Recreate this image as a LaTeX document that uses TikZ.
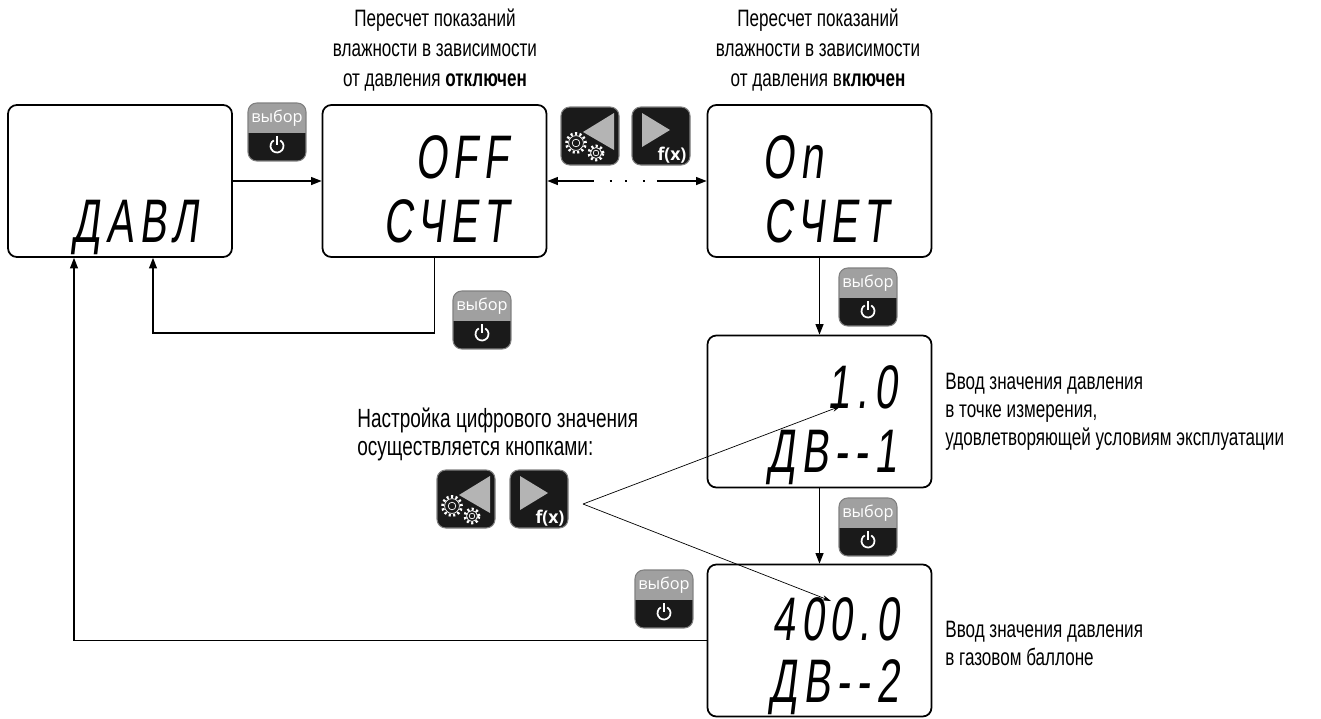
\documentclass[tikz,border=0pt]{standalone}
\usepackage{fontspec}
\setmainfont{Liberation Sans}[FakeStretch=0.72]
\newfontfamily\lcdfont{Liberation Sans}[FakeStretch=0.66,FakeSlant=0.12,LetterSpace=10,Ligatures=TeXOff]
\newfontfamily\btnfont{Open Sans}
\usetikzlibrary{arrows.meta}

\definecolor{btngray}{HTML}{A0A0A0}
\definecolor{trigray}{HTML}{B4B4B4}
\definecolor{btnblack}{HTML}{1A1A1A}

\tikzset{
	disp/.style={draw, line width=1pt, rounded corners=5pt, minimum width=4.48cm, minimum height=3.04cm, inner sep=0pt},
	seg/.style={font=\lcdfont\fontsize{35}{35}\selectfont, inner sep=0pt},
	lbl/.style={font=\fontsize{13.5}{17}\selectfont, align=center},
	note/.style={font=\fontsize{13.5}{15.9}\selectfont, align=left, inner sep=0pt},
	wire/.style={line width=0.8pt},
	pointer/.style={line width=0.4pt, -{Stealth[length=5pt,width=3pt]}},
	keyrim/.style={draw=gray, line width=0.6pt, rounded corners=5pt},
	cog/.pic={
		\draw[white, line width=1.6pt, dash pattern=on 1.2pt off 1.4pt] (0,0) circle[radius=#1];
		\filldraw[fill=btnblack, draw=white, line width=0.4pt] (0,0) circle[radius=0.78*#1];
		\draw[white, line width=0.4pt] (0,0) circle[radius=0.4*#1];
	},
	selkey/.pic={
		\begin{scope}
			\clip[rounded corners=5pt] (-29,-29) rectangle (29,29);
			\fill[btnblack] (-29,-29) rectangle (29,29);
			\fill[btngray] (-29,-29) rectangle (29,1);
		\end{scope}
		\draw[keyrim] (-29,-29) rectangle (29,29);
		\node[font=\btnfont\fontsize{9.3}{9.3}\selectfont, text=white, inner sep=0pt] (-txt) at (0,-14) {выбор};
		\draw[white, line width=1pt] (0,14) ++(120:0.13cm) arc[start angle=120, end angle=420, radius=0.13cm];
		\draw[white, line width=1pt] (0,4) -- (0,13);
	},
	leftkey/.pic={
		\fill[btnblack, rounded corners=5pt] (-29,-29) rectangle (29,29);
		\draw[keyrim] (-29,-29) rectangle (29,29);
		\fill[trigray] (-7,-4) -- (24,-23) -- (24,14) -- cycle;
		\pic at (-14,7) {cog=0.19cm};
		\pic at (6,17) {cog=0.14cm};
	},
	rightkey/.pic={
		\fill[btnblack, rounded corners=5pt] (-29,-29) rectangle (29,29);
		\draw[keyrim] (-29,-29) rectangle (29,29);
		\fill[trigray] (-19,-23) -- (9,-6) -- (-19,11) -- cycle;
		\node[font=\btnfont\bfseries\fontsize{10}{10}\selectfont, text=white, inner sep=0pt] (-fx) at (11,19) {f(x)};
	},
}

\begin{document}
\begin{tikzpicture}[x=0.02cm, y=-0.02cm, >={Triangle[length=6pt,width=4.5pt]}]
		\useasboundingbox (0,0) rectangle (1321,718);

		\node[disp] (d1) at (120,181) {};
		\node[disp] (d2) at (434.5,181) {};
		\node[disp] (d3) at (819.5,181) {};
		\node[disp] (d4) at (819.5,411.5) {};
		\node[disp] (d5) at (819.5,640.5) {};

		\node[seg, anchor=base east] (s1) at (199,242) {ДАВЛ};
		\node[seg, anchor=base east] (s2a) at (509,178) {OFF};
		\node[seg, anchor=base east] (s2b) at (509,242) {СЧЕТ};
		\node[seg, anchor=base west] (s3a) at (762,178) {On};
		\node[seg, anchor=base east] (s3b) at (889,242) {СЧЕТ};
		\node[seg, anchor=base east] (s4a) at (897,408) {1.0};
		\node[seg, anchor=base east] (s4b) at (897,472) {ДВ--1};
		\node[seg, anchor=base east] (s5a) at (899,640) {400.0};
		\node[seg, anchor=base east] (s5b) at (899,702) {ДВ--2};

		\pic (k1) at (277,132) {selkey};
		\pic (k2) at (482,320) {selkey};
		\pic (k3) at (868,297) {selkey};
		\pic (k4) at (868,527) {selkey};
		\pic (k5) at (664,599) {selkey};
		\pic (l1) at (590,136) {leftkey};
		\pic (r1) at (661,136) {rightkey};
		\pic (l2) at (466,499) {leftkey};
		\pic (r2) at (539,499) {rightkey};

		\node[lbl] (t1) at (435,50) {Пересчет показаний\\влажности в зависимости\\от давления \textbf{отключен}};
		\node[lbl] (t2) at (818,50) {Пересчет показаний\\влажности в зависимости\\от давления в\textbf{ключен}};
		\node[note, anchor=west] (n1) at (945,412) {Ввод значения давления\\в точке измерения,\\удовлетворяющей условиям эксплуатации};
		\node[note, anchor=west] (n2) at (945,643) {Ввод значения давления\\в газовом баллоне};
		\node[note, anchor=west, font=\fontsize{15}{16}\selectfont] (n3) at (357,434) {Настройка цифрового значения\\ осуществляется кнопками:};

		\coordinate (c1) at (153,333);
		\coordinate (c2) at (74,640.5);
		\coordinate (p) at (583,504);
		\coordinate (q1) at (841,406);
		\coordinate (q2) at (831,601);

		\draw[wire, ->] (d1) edge (d2);
		\draw[wire, <->, dash pattern=on 20.6pt off 9.1pt on 1.2pt off 7.4pt on 1.2pt off 9pt on 1.2pt off 6.8pt on 60pt] (d2) -- (d3);
		\draw[wire, ->] (d3) edge (d4);
		\draw[wire, ->] (d4) edge (d5);
		\draw[wire, ->] (d2.south) |- (c1) -- (c1 |- d1.south);
		\draw[wire, ->] (d5.west) -- (c2) -- (c2 |- d1.south);
		\draw[pointer] (p) -- (q1);
		\draw[pointer] (p) -- (q2);
	\end{tikzpicture}
\end{document}
